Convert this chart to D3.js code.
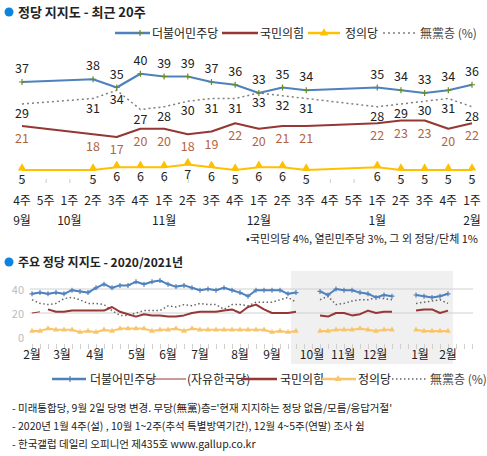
<!DOCTYPE html><html><head><meta charset="utf-8">
<script src="https://cdn.jsdelivr.net/npm/d3@7"></script>
<style>body{margin:0;background:#fff}svg{font-family:"Noto Sans CJK KR","Noto Sans",sans-serif}</style></head><body>
<script>
// ---- Top chart: last 20 weeks ----
const weekLabels=["4주","5주","1주","2주","3주","4주","1주","2주","3주","4주","1주","2주","3주","4주","5주","1주","2주","3주","4주","1주"];
const monthLabels=[{i:0,t:"9월"},{i:2,t:"10월"},{i:6,t:"11월"},{i:10,t:"12월"},{i:15,t:"1월"},{i:19,t:"2월"}];
const topIdx=[0,3,4,5,6,7,8,9,10,11,12,15,16,17,18,19];
const topDem=[37,38,35,40,39,39,37,36,33,35,34,35,34,33,34,36];
const topPPP=[21,18,17,20,20,18,19,22,20,21,21,22,23,23,20,22];
const topJus=[5,5,6,6,6,7,6,5,6,6,5,6,5,5,5,5];
const topNone=[29,31,34,27,28,30,31,31,33,32,31,28,29,30,31,28];
// ---- Bottom chart: weekly 2020/2021 (null = no survey) ----
const N=null;
const botDem=[36,37,36,37,36,39,38,37,41,44,41,43,43,46,44,46,47,44,42,43,41,39,40,39,41,39,37,34,39,39,39,39,36,37,N,N,38,35,40,39,39,37,36,33,35,34,N,N,35,34,33,34,36];
const botLKP=[20,21];
const botPPP=[N,N,23,21,21,22,22,22,22,22,25,21,19,17,19,18,18,17,17,18,20,21,21,21,22,23,20,25,27,23,20,20,20,21,N,N,18,17,20,20,18,19,22,20,21,21,N,N,22,23,23,20,22];
const botJus=[5,5,7,6,6,6,4,5,4,6,5,7,7,7,7,5,6,6,7,5,7,6,6,6,6,6,6,6,6,6,4,5,4,5,N,N,5,5,6,6,6,7,6,5,6,6,N,N,6,5,5,5,5];
const botNone=[31,28,27,28,32,33,31,28,28,27,22,18,18,20,22,22,22,26,25,27,26,28,27,27,23,27,27,26,29,29,29,31,33,29,N,N,31,34,27,28,30,31,31,33,32,31,N,N,28,29,30,31,28];
const botMonths=[{i:0,t:"2월"},{i:3.75,t:"3월"},{i:7.9,t:"4월"},{i:13.1,t:"5월"},{i:17,t:"6월"},{i:21,t:"7월"},{i:26,t:"8월"},{i:30,t:"9월"},{i:35,t:"10월"},{i:38.9,t:"11월"},{i:42.9,t:"12월"},{i:48.5,t:"1월"},{i:52,t:"2월"}];
const botTicks=[0,20,40];

const C={dem:"#4f81bd",ppp:"#953735",jus:"#ffc000",none:"#7f7f7f",jusL:"#f9c56b"};
const svg=d3.select("body").append("svg").attr("width",487).attr("height",456);
function dot(x,y){svg.append("circle").attr("cx",x).attr("cy",y).attr("r",4.5).attr("fill","#0a84e0");}
function txt(x,y,t,o={}){return svg.append("text").attr("x",x).attr("y",y).text(t).attr("font-size",o.fs||12).attr("fill",o.c||"#222").attr("text-anchor",o.a||"start").attr("font-weight",o.w||"normal");}

dot(9,12);txt(18,17,"정당 지지도 - 최근 20주",{fs:13,w:"bold"});
function legLine(x1,x2,y,c,w,dash){svg.append("line").attr("x1",x1).attr("x2",x2).attr("y1",y).attr("y2",y).attr("stroke",c).attr("stroke-width",w).attr("stroke-dasharray",dash||null);}
function plus(x,y,c,s){svg.append("path").attr("d",`M${x-s},${y}H${x+s}M${x},${y-s}V${y+s}`).attr("stroke",c).attr("stroke-width",1.2);}
function tri(x,y,c,s){svg.append("path").attr("d",d3.symbol(d3.symbolTriangle,s)()).attr("transform",`translate(${x},${y})`).attr("fill",c);}
legLine(115,150,33,C.dem,2.5);plus(140,33,"#6a8a2a",3);txt(152,38,"더불어민주당");
legLine(222,258,33,C.ppp,2.5);txt(260,38,"국민의힘");
legLine(308,340,33,C.jus,2.5);tri(324,33,C.jus,30);txt(345,38,"정의당");
legLine(383,415,33,C.none,1.5,"2,3");txt(420,38,"無黨층 (%)",{c:"#444"});

const xT=d3.scaleLinear().domain([0,19]).range([22,472]);
const yT=d3.scaleLinear().domain([21,5]).range([126,170]);
const ax=svg.append("g").attr("transform","translate(0,183)").call(d3.axisBottom(xT).tickValues(d3.range(20)).tickSize(-4).tickFormat(""));
ax.select(".domain").remove();ax.selectAll("line").attr("stroke","#ccc");
weekLabels.forEach((t,i)=>txt(xT(i),205,t,{a:"middle",fs:12}));
monthLabels.forEach(m=>txt(xT(m.i),225,m.t,{a:"middle",fs:12}));
txt(478,243,"•국민의당 4%, 열린민주당 3%, 그 외 정당/단체 1%",{a:"end",fs:11});

function series(idx,vals,x,y){return idx.map((k,j)=>({x:x(k),y:vals[j]==null?null:y(vals[j]),v:vals[j]}));}
const lineG=d3.line().defined(d=>d.y!=null).x(d=>d.x).y(d=>d.y);
function draw(pts,c,w,dash){svg.append("path").attr("d",lineG(pts)).attr("fill","none").attr("stroke",c).attr("stroke-width",w).attr("stroke-dasharray",dash||null).attr("stroke-linejoin","round");}
const tN=series(topIdx,topNone,xT,yT),tD=series(topIdx,topDem,xT,yT),tP=series(topIdx,topPPP,xT,yT),tJ=series(topIdx,topJus,xT,yT);
draw(tN,C.none,1.5,"2,3");draw(tP,C.ppp,2.2);draw(tD,C.dem,2.2);draw(tJ,C.jus,2.2);
tD.forEach(d=>{plus(d.x,d.y,"#6a8a2a",3);txt(d.x,d.y-9,d.v,{a:"middle",fs:12.5});});
tN.forEach(d=>txt(d.x,d.y+14,d.v,{a:"middle",fs:12.5}));
tP.forEach(d=>txt(d.x,d.y+17,d.v,{a:"middle",fs:12.5,c:"#b4643c"}));
tJ.forEach(d=>{tri(d.x,d.y-2,C.jus,30);txt(d.x,d.y+14,d.v,{a:"middle",fs:12.5});});

// ---- Bottom chart ----
dot(9,262);txt(18,267,"주요 정당 지지도 - 2020/2021년",{fs:12,w:"bold"});
const xB=d3.scaleLinear().domain([0,52]).range([32,448]);
const yB=d3.scaleLinear().domain([0,40]).range([337,289]);
svg.append("rect").attr("x",291).attr("y",271).attr("width",162).attr("height",93).attr("fill","#f0f0f0");
botTicks.forEach(v=>{if(v>0)legLine(30,473,yB(v),"#d0d0d0",1);txt(24,yB(v)+5,v,{a:"end",fs:11,c:"#bbb"});});
const axB=svg.append("g").attr("transform","translate(0,344)").call(d3.axisBottom(xB).tickValues(d3.range(56)).tickSize(5).tickFormat(""));
axB.select(".domain").remove();axB.selectAll("line").attr("stroke","#d0d0d0");
botMonths.forEach(m=>txt(xB(m.i),359,m.t,{a:"middle",fs:12}));
const bi=d3.range(botDem.length);
const bN=series(bi,botNone,xB,yB),bD=series(bi,botDem,xB,yB),bP=series(bi,botPPP,xB,yB),bJ=series(bi,botJus,xB,yB),bL=series([0,1],botLKP,xB,yB);
draw(bN,"#666",1.5,"1.5,2.5");draw(bL,C.ppp,1);draw(bP,C.ppp,2);draw(bD,C.dem,2);draw(bJ,C.jusL,2);
bD.filter(d=>d.y!=null).forEach(d=>plus(d.x,d.y,C.dem,2.5));
bJ.filter(d=>d.y!=null).forEach(d=>tri(d.x,d.y,C.jusL,14));
legLine(52,86,379,C.dem,2.5);plus(70,379,C.dem,3);txt(90,384,"더불어민주당");
legLine(150,186,379,C.ppp,1);txt(187,384,"(자유한국당)");
legLine(241,277,379,C.ppp,2.5);txt(280,384,"국민의힘");
legLine(322,356,379,C.jusL,2.5);tri(338,379,C.jusL,20);txt(358,384,"정의당");
legLine(392,426,379,"#666",1.5,"1.5,2.5");txt(430,384,"無黨층 (%)",{c:"#444"});
txt(12,412,"- 미래통합당, 9월 2일 당명 변경. 무당(無黨)층='현재 지지하는 정당 없음/모름/응답거절'",{fs:10.5});
txt(12,430,"- 2020년 1월 4주(설) , 10월 1~2주(추석 특별방역기간), 12월 4~5주(연말) 조사 쉼",{fs:10.5});
txt(12,448,"- 한국갤럽 데일리 오피니언 제435호 www.gallup.co.kr",{fs:10.5});
</script></body></html>
